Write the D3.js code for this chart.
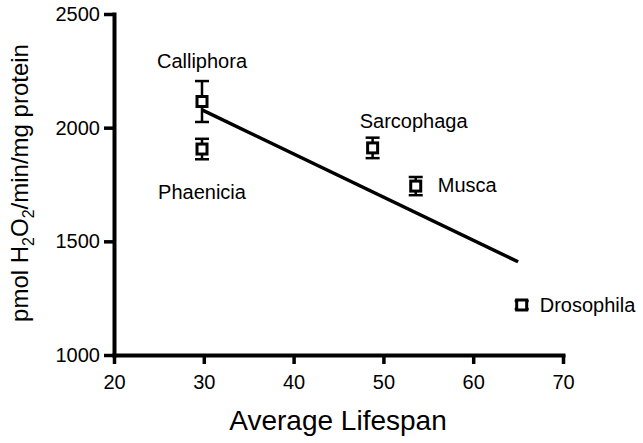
<!DOCTYPE html>
<html lang="en">
<head>
  <meta charset="UTF-8">
  <title>H2O2 vs lifespan</title>
  <script src="https://d3js.org/d3.v7.min.js"></script>
  <style>
    * { margin: 0; padding: 0; }
    body { background-color: #fff; }
    svg text { font-family: "Liberation Sans", Arial, sans-serif; fill: #000; }
  </style>
</head>
<body>
  <svg id="chart" width="643" height="443"></svg>

  <script>
    // data
    var species = ['Calliphora', 'Phaenicia', 'Sarcophaga', 'Musca', 'Drosophila'];
    var lifespan = [29.8, 29.8, 48.8, 53.6, 65.4];
    var h2o2 = [2115, 1906, 1911, 1743, 1220];
    var sem = [90, 45, 45, 40, 18];
    var fitX = [29.8, 65.0];
    var fitY = [2078, 1410];
    var xTicks = [20, 30, 40, 50, 60, 70];
    var yTicks = [1000, 1500, 2000, 2500];

    // label placement per species: [dx, dy, anchor]
    var labelPos = [
      [0, -34, 'middle'],
      [0, 50, 'middle'],
      [41, -20, 'middle'],
      [22, 6, 'start'],
      [18, 7, 'start']
    ];

    var svg = d3.select('#chart');
    var x = d3.scaleLinear().domain([20, 70]).range([114, 563]);
    var y = d3.scaleLinear().domain([1000, 2500]).range([355, 14]);

    var xAxis = svg.append('g')
      .attr('transform', 'translate(0,' + y(1000) + ')')
      .call(d3.axisBottom(x).tickValues(xTicks).tickFormat(d3.format('d'))
        .tickSize(9).tickPadding(11).tickSizeOuter(0));
    var yAxis = svg.append('g')
      .attr('transform', 'translate(' + x(20) + ',0)')
      .call(d3.axisLeft(y).tickValues(yTicks).tickFormat(d3.format('d'))
        .tickSize(10).tickPadding(4).tickSizeOuter(0));

    [xAxis, yAxis].forEach(function(g) {
      g.select('.domain').attr('stroke', '#000').attr('stroke-width', 4).attr('stroke-linecap', 'square');
      g.selectAll('.tick line').attr('stroke', '#000').attr('stroke-width', 3.5);
      g.selectAll('.tick text').attr('font-size', 20);
    });

    // regression line
    var line = d3.line().x(function(d) { return x(d[0]); }).y(function(d) { return y(d[1]); });
    svg.append('path')
      .attr('d', line(d3.zip(fitX, fitY)))
      .attr('fill', 'none').attr('stroke', '#000').attr('stroke-width', 3.5);

    var pts = svg.append('g').selectAll('g')
      .data(species.map(function(s, i) { return {name: s, x: lifespan[i], y: h2o2[i], e: sem[i], lab: labelPos[i]}; }))
      .join('g');

    // error bars
    pts.append('line')
      .attr('x1', function(d) { return x(d.x); }).attr('x2', function(d) { return x(d.x); })
      .attr('y1', function(d) { return y(d.y + d.e); }).attr('y2', function(d) { return y(d.y - d.e); })
      .attr('stroke', '#000').attr('stroke-width', 2.5);
    [1, -1].forEach(function(sgn) {
      pts.append('line')
        .attr('x1', function(d) { return x(d.x) - 7; }).attr('x2', function(d) { return x(d.x) + 7; })
        .attr('y1', function(d) { return y(d.y + sgn * d.e); }).attr('y2', function(d) { return y(d.y + sgn * d.e); })
        .attr('stroke', '#000').attr('stroke-width', 2.5);
    });

    // square markers
    pts.append('rect')
      .attr('x', function(d) { return x(d.x) - 5; })
      .attr('y', function(d) { return y(d.y) - 5; })
      .attr('width', 10).attr('height', 10)
      .attr('fill', '#fff').attr('stroke', '#000').attr('stroke-width', 3);

    pts.append('text')
      .attr('x', function(d) { return x(d.x) + d.lab[0]; })
      .attr('y', function(d) { return y(d.y) + d.lab[1]; })
      .attr('text-anchor', function(d) { return d.lab[2]; })
      .attr('font-size', 20)
      .text(function(d) { return d.name; });

    // axis titles
    svg.append('text')
      .attr('x', 338).attr('y', 430)
      .attr('text-anchor', 'middle').attr('font-size', 28)
      .text('Average Lifespan');

    var yt = svg.append('text')
      .attr('transform', 'translate(28,183) rotate(-90)')
      .attr('text-anchor', 'middle').attr('font-size', 24);
    yt.append('tspan').text('pmol H');
    yt.append('tspan').attr('font-size', 16).attr('dy', 6).text('2');
    yt.append('tspan').attr('dy', -6).text('O');
    yt.append('tspan').attr('font-size', 16).attr('dy', 6).text('2');
    yt.append('tspan').attr('dy', -6).text('/min/mg protein');
  </script>
</body>
</html>
